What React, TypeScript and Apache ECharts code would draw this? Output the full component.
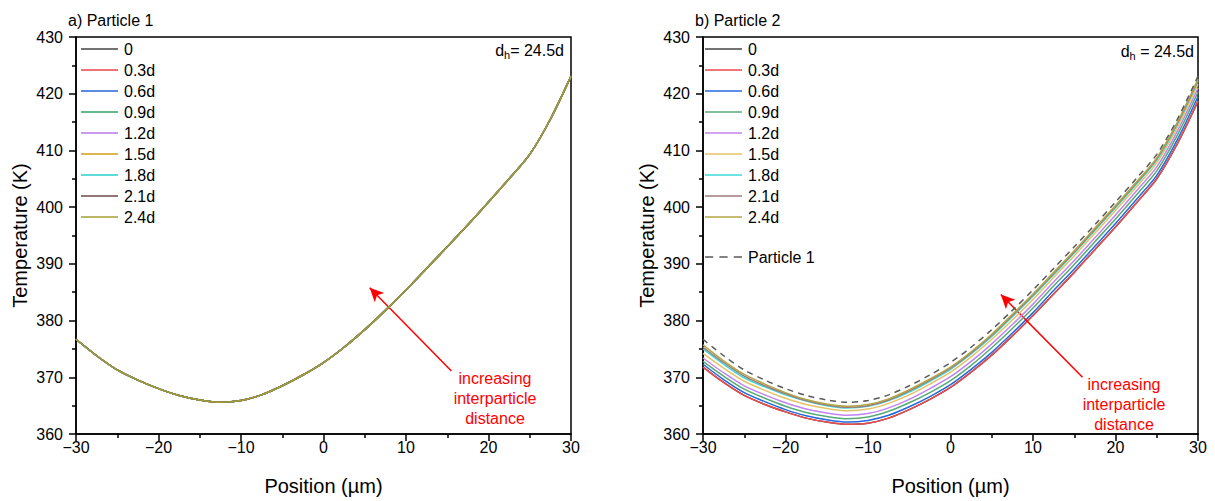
import React, { useEffect, useRef } from "react";
import * as echarts from "echarts";

// Position (µm)
const positions = [-30, -27.5, -25, -22.5, -20, -17.5, -15, -12.5, -10, -7.5, -5, -2.5, 0, 2.5, 5, 7.5, 10, 12.5, 15, 17.5, 20, 22.5, 25, 27.5, 30];

// a) Particle 1 — all spacings coincide
const p1Base = [376.7, 373.8, 371.3, 369.5, 368.0, 366.8, 366.0, 365.6, 365.9, 366.9, 368.5, 370.4, 372.6, 375.3, 378.4, 381.8, 385.4, 389.2, 393.0, 396.9, 400.9, 405.0, 409.3, 415.5, 423.1];

// b) Particle 2
const p2_0 = [371.8, 369.1, 366.8, 365.2, 363.9, 362.8, 362.1, 361.7, 361.9, 362.8, 364.3, 366.1, 368.2, 370.9, 373.9, 377.3, 380.9, 384.7, 388.5, 392.5, 396.5, 400.7, 405.0, 411.2, 418.7];
const p2_03 = [371.8, 369.1, 366.8, 365.2, 363.9, 362.8, 362.1, 361.7, 361.9, 362.8, 364.3, 366.1, 368.2, 370.9, 373.9, 377.3, 380.9, 384.7, 388.5, 392.5, 396.5, 400.7, 405.0, 411.2, 418.7];
const p2_06 = [372.3, 369.6, 367.3, 365.7, 364.3, 363.2, 362.5, 362.1, 362.4, 363.3, 364.8, 366.6, 368.7, 371.4, 374.4, 377.8, 381.4, 385.3, 389.1, 393.1, 397.1, 401.3, 405.6, 411.9, 419.5];
const p2_09 = [372.8, 370.2, 367.9, 366.3, 364.9, 363.8, 363.1, 362.7, 363.0, 364.0, 365.5, 367.3, 369.4, 372.1, 375.2, 378.6, 382.2, 386.1, 389.9, 393.9, 397.9, 402.1, 406.4, 412.7, 420.3];
const p2_12 = [373.4, 370.8, 368.5, 366.9, 365.5, 364.4, 363.7, 363.3, 363.6, 364.6, 366.1, 368.0, 370.1, 372.8, 375.9, 379.3, 382.9, 386.8, 390.6, 394.6, 398.6, 402.8, 407.1, 413.4, 421.0];
const p2_15 = [374.2, 371.6, 369.3, 367.7, 366.3, 365.2, 364.5, 364.1, 364.4, 365.4, 366.9, 368.8, 370.9, 373.6, 376.7, 380.1, 383.7, 387.6, 391.4, 395.4, 399.4, 403.5, 407.8, 414.1, 421.7];
const p2_18 = [375.0, 372.3, 369.9, 368.3, 366.9, 365.8, 365.0, 364.6, 364.9, 365.9, 367.4, 369.3, 371.4, 374.1, 377.2, 380.7, 384.3, 388.1, 391.9, 395.9, 399.9, 404.0, 408.3, 414.6, 422.2];
const p2_21 = [375.3, 372.6, 370.2, 368.5, 367.1, 365.9, 365.1, 364.7, 365.0, 366.0, 367.6, 369.5, 371.6, 374.3, 377.4, 380.9, 384.5, 388.3, 392.1, 396.1, 400.1, 404.2, 408.5, 414.8, 422.4];
const p2_24 = [375.7, 372.9, 370.5, 368.8, 367.3, 366.1, 365.3, 364.9, 365.2, 366.2, 367.8, 369.7, 371.8, 374.5, 377.6, 381.1, 384.7, 388.5, 392.3, 396.3, 400.3, 404.4, 408.7, 415.0, 422.6];
const particle1Ref = [376.7, 373.8, 371.3, 369.5, 368.0, 366.8, 366.0, 365.6, 365.9, 366.9, 368.5, 370.4, 372.6, 375.3, 378.4, 381.8, 385.4, 389.2, 393.0, 396.9, 400.9, 405.0, 409.3, 415.5, 423.1];

const spacingNames = ["0", "0.3d", "0.6d", "0.9d", "1.2d", "1.5d", "1.8d", "2.1d", "2.4d"];
const leftColors = ["#444444", "#e84545", "#2566d8", "#35a065", "#b878e8", "#d29c18", "#28d0d0", "#6e4848", "#a69e34"];
const rightColors = ["#444444", "#f04a4a", "#2468dc", "#55aa77", "#c284ee", "#e6c266", "#3cd8d8", "#a07a7a", "#b2a648"];
const p1Series = [p1Base, p1Base, p1Base, p1Base, p1Base, p1Base, p1Base, p1Base, p1Base];
const p2Series = [p2_0, p2_03, p2_06, p2_09, p2_12, p2_15, p2_18, p2_21, p2_24];

// Arrow annotations (data coords): [tail, head]
const arrowLeft = [[15.5, 371.1], [5.6, 385.8]];
const arrowRight = [[16.0, 370.0], [6.1, 384.6]];

const FONT = "Liberation Sans, Arial, sans-serif";
const SOLID_ICON = "path://M0,0H37V1.5H0Z";
const DASH_ICON = "path://M0,0H8V1.5H0Z M14,0H22V1.5H14Z M28,0H36V1.5H28Z";

function pairs(ys: number[]) {
  return positions.map((x, i) => [x, ys[i]]);
}

export default function App() {
  const ref = useRef<HTMLDivElement>(null);
  useEffect(() => {
    if (!ref.current) return;
    const chart = echarts.init(ref.current, undefined, { renderer: "svg" });
    const fmt = (v: number) => (v < 0 ? "\u2212" + Math.abs(v) : String(v));
    const mkX = (gi: number) => ({
      type: "value",
      gridIndex: gi,
      min: -30,
      max: 30,
      interval: 10,
      name: "Position (\u00b5m)",
      nameLocation: "middle",
      nameGap: 42,
      nameTextStyle: { fontSize: 20, color: "#000", fontFamily: FONT },
      axisLine: { onZero: false, lineStyle: { color: "#000", width: 1.5 } },
      axisTick: { show: true, length: 7, lineStyle: { color: "#000", width: 1.5 } },
      minorTick: { show: true, splitNumber: 2, length: 4, lineStyle: { color: "#000", width: 1.5 } },
      splitLine: { show: false },
      axisLabel: { fontSize: 16, color: "#000", fontFamily: FONT, margin: 5, formatter: fmt },
    });
    const mkY = (gi: number) => ({
      type: "value",
      gridIndex: gi,
      min: 360,
      max: 430,
      interval: 10,
      name: "Temperature (K)",
      nameLocation: "middle",
      nameGap: 46,
      nameTextStyle: { fontSize: 20, color: "#000", fontFamily: FONT },
      axisLine: { onZero: false, lineStyle: { color: "#000", width: 1.5 } },
      axisTick: { show: true, length: 7, lineStyle: { color: "#000", width: 1.5 } },
      minorTick: { show: true, splitNumber: 2, length: 4, lineStyle: { color: "#000", width: 1.5 } },
      splitLine: { show: false },
      axisLabel: { fontSize: 16, color: "#000", fontFamily: FONT, margin: 13 },
    });

    const series: any[] = [];
    spacingNames.forEach((n, i) => {
      series.push({
        type: "line",
        name: n,
        xAxisIndex: 0,
        yAxisIndex: 0,
        data: pairs(p1Series[i]),
        smooth: 0.3,
        symbol: "none",
        lineStyle: { color: leftColors[i], width: 1.5 },
        itemStyle: { color: leftColors[i] },
        z: 2 + i,
      });
    });
    spacingNames.forEach((n, i) => {
      series.push({
        type: "line",
        name: n,
        xAxisIndex: 1,
        yAxisIndex: 1,
        data: pairs(p2Series[i]),
        smooth: 0.3,
        symbol: "none",
        lineStyle: { color: rightColors[i], width: 1.5 },
        itemStyle: { color: rightColors[i] },
        z: 2 + i,
      });
    });
    series.push({
      type: "line",
      name: "Particle 1",
      xAxisIndex: 1,
      yAxisIndex: 1,
      data: pairs(particle1Ref),
      smooth: 0.3,
      symbol: "none",
      lineStyle: { color: "#5a5a5a", width: 1.5, type: [6, 5] },
      itemStyle: { color: "#5a5a5a" },
      z: 20,
    });
    const arrowMark = (a: number[][]) => ({
      silent: true,
      symbol: ["none", "arrow"],
      symbolSize: [10, 14],
      label: { show: false },
      lineStyle: { color: "#ff0000", width: 1.5, type: "solid" },
      data: [[{ coord: a[0] }, { coord: a[1] }]],
    });
    series[8].markLine = arrowMark(arrowLeft);
    series[17].markLine = arrowMark(arrowRight);

    const legendBase = {
      orient: "vertical",
      padding: 0,
      itemWidth: 37,
      itemHeight: 14,
      itemGap: 5,
      selectedMode: false,
      textStyle: { fontSize: 16, color: "#000", fontFamily: FONT, padding: [0, 0, 0, 1] },
    };

    const dhText = (x: number, y: number, sep: string) => ({
      type: "text",
      x,
      y,
      style: {
        text: "{b|d}{s|h}{b|" + sep + "24.5d}",
        align: "right",
        verticalAlign: "middle",
        rich: {
          b: { fontSize: 16, fontFamily: FONT, fill: "#000", lineHeight: 22 },
          s: { fontSize: 11, fontFamily: FONT, fill: "#000", lineHeight: 22, padding: [9, 0, 0, 0] },
        },
      },
    });
    const noteText = (x: number, y: number) => ({
      type: "text",
      x,
      y,
      style: {
        text: "increasing\ninterparticle\ndistance",
        align: "center",
        verticalAlign: "top",
        fontSize: 16,
        lineHeight: 20,
        fontFamily: FONT,
        fill: "#ff0000",
      },
    });

    chart.setOption({
      animation: false,
      backgroundColor: "#fff",
      grid: [
        { left: 76, top: 37, width: 495, height: 400, show: true, borderColor: "#000", borderWidth: 1.5 },
        { left: 703, top: 37, width: 495, height: 400, show: true, borderColor: "#000", borderWidth: 1.5 },
      ],
      xAxis: [mkX(0), mkX(1)],
      yAxis: [mkY(0), mkY(1)],
      legend: [
        {
          ...legendBase,
          left: 81,
          top: 41,
          data: spacingNames.map((n, i) => ({ name: n, icon: SOLID_ICON, itemStyle: { color: leftColors[i] } })),
        },
        {
          ...legendBase,
          left: 705,
          top: 41,
          data: spacingNames.map((n, i) => ({ name: n, icon: SOLID_ICON, itemStyle: { color: rightColors[i] } })),
        },
        {
          ...legendBase,
          left: 705,
          top: 249,
          data: [{ name: "Particle 1", icon: DASH_ICON, itemStyle: { color: "#5a5a5a" } }],
        },
      ],
      graphic: [
        { type: "text", x: 68, y: 20, style: { text: "a) Particle 1", fontSize: 16, fontFamily: FONT, fill: "#000", verticalAlign: "middle" } },
        { type: "text", x: 695, y: 20, style: { text: "b) Particle 2", fontSize: 16, fontFamily: FONT, fill: "#000", verticalAlign: "middle" } },
        dhText(564, 50, "= "),
        dhText(1194, 51, " = "),
        noteText(495, 368),
        noteText(1124, 374),
      ],
      series,
    });
    return () => chart.dispose();
  }, []);
  return <div ref={ref} style={{ position: "fixed", left: 0, top: 0, width: 1215, height: 501 }} />;
}
